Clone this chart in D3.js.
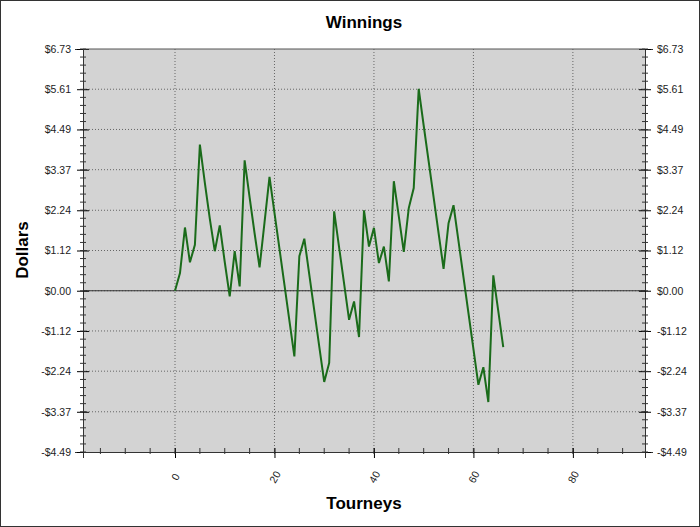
<!DOCTYPE html>
<html><head><meta charset="utf-8">
<script src="https://cdn.jsdelivr.net/npm/d3@7"></script>
<style>body{margin:0;background:#fff}</style>
</head><body><svg id="chart" width="700" height="527"></svg>
<script>
// cumulative winnings per tourney
var winnings = [0, 0.49, 1.76, 0.79, 1.28, 4.07, 3.0, 2.0, 1.10, 1.82,
    0.8, -0.16, 1.10, 0.12, 3.63, 2.6, 1.6, 0.65, 1.9, 3.17,
    2.17, 1.17, 0.17, -0.83, -1.83, 0.96, 1.45, 0.45, -0.55, -1.55,
    -2.54, -2.01, 2.21, 1.2, 0.2, -0.81, -0.30, -1.29, 2.24, 1.23,
    1.75, 0.77, 1.23, 0.26, 3.05, 2.07, 1.08, 2.30, 2.86, 5.62,
    4.6, 3.6, 2.6, 1.6, 0.61, 1.88, 2.38, 1.38, 0.38, -0.62,
    -1.62, -2.62, -2.13, -3.10, 0.43, -0.57, -1.57]
var yTicks = [-4.49, -3.37, -2.24, -1.12, 0, 1.12, 2.24, 3.37, 4.49, 5.61, 6.73]
var xTicks = [0, 20, 40, 60, 80]

var dim = {left: 83, right: 645, top: 49, bottom: 452}
var svg = d3.select("#chart").style("font-family", "Arial, 'Liberation Sans', sans-serif")

svg.append("rect").attr("x", 0.5).attr("y", 0.5).attr("width", 699).attr("height", 526)
    .attr("fill", "#fff").attr("stroke", "#333")

var x = d3.scaleLinear().domain([-18.5, 94.5]).range([dim.left, dim.right])
var y = d3.scaleLinear().domain([-4.49, 6.73]).range([dim.bottom, dim.top])

svg.append("rect").attr("x", dim.left).attr("y", dim.top)
    .attr("width", dim.right - dim.left).attr("height", dim.bottom - dim.top)
    .attr("fill", "#d3d3d3")

// grid
svg.append("g").selectAll("line").data(yTicks.slice(1, -1)).join("line")
    .attr("x1", dim.left).attr("x2", dim.right)
    .attr("y1", d => y(d)).attr("y2", d => y(d))
    .attr("stroke", "#666").attr("stroke-dasharray", "1,2")
svg.append("g").selectAll("line").data(xTicks).join("line")
    .attr("y1", dim.top).attr("y2", dim.bottom)
    .attr("x1", d => x(d)).attr("x2", d => x(d))
    .attr("stroke", "#666").attr("stroke-dasharray", "1,2")

svg.append("line").attr("x1", dim.left).attr("x2", dim.right)
    .attr("y1", y(0)).attr("y2", y(0)).attr("stroke", "#333").attr("stroke-width", 1.2)

var fmt = d => (d < 0 ? "-$" : "$") + Math.abs(d).toFixed(2)
var yMinor = d3.range(0, 51).map(i => -4.49 + i * 11.22 / 50)

// left / right axes
var yl = svg.append("g").attr("transform", `translate(${dim.left},0)`)
    .call(d3.axisLeft(y).tickValues(yTicks).tickFormat(fmt).tickSize(8).tickPadding(4))
var yr = svg.append("g").attr("transform", `translate(${dim.right},0)`)
    .call(d3.axisRight(y).tickValues(yTicks).tickFormat(fmt).tickSize(8).tickPadding(4))
;[yl, yr].forEach(function(g){
    g.select(".domain").attr("stroke", "#333")
    g.selectAll("text").attr("font-size", 10.5).attr("fill", "#222")
})
yl.selectAll(".tick line").attr("x2", -6).attr("x1", 6)
yr.selectAll(".tick line").attr("x2", 6).attr("x1", -6)
;[dim.left, dim.right].forEach(function(px){
    svg.append("g").selectAll("line").data(yMinor).join("line")
        .attr("x1", px - 3).attr("x2", px + 3)
        .attr("y1", d => y(d)).attr("y2", d => y(d)).attr("stroke", "#333")
})

// bottom axis
var xb = svg.append("g").attr("transform", `translate(0,${dim.bottom})`)
    .call(d3.axisBottom(x).tickValues(xTicks).tickSize(6))
xb.select(".domain").attr("stroke", "#333")
xb.selectAll(".tick line").attr("y1", -4).attr("y2", 6)
xb.selectAll("text").attr("font-size", 10.5).attr("fill", "#222")
    .attr("y", 0).attr("dy", "0.35em").attr("text-anchor", "middle")
    .attr("transform", "translate(0,25) rotate(-60)")
svg.append("g").selectAll("line").data(d3.range(-15, 95, 5)).join("line")
    .attr("x1", d => x(d)).attr("x2", d => x(d))
    .attr("y1", dim.bottom - 4).attr("y2", dim.bottom + 2).attr("stroke", "#333")

svg.append("line").attr("x1", dim.left).attr("x2", dim.right)
    .attr("y1", dim.top).attr("y2", dim.top).attr("stroke", "#555")

// series
svg.append("path").datum(winnings)
    .attr("fill", "none").attr("stroke", "#1a6b1a").attr("stroke-width", 2)
    .attr("d", d3.line().x((d, i) => x(i)).y(d => y(d)))

svg.append("text").attr("x", 364).attr("y", 28).attr("text-anchor", "middle")
    .attr("font-size", 17).attr("font-weight", "bold").text("Winnings")
svg.append("text").attr("x", 364).attr("y", 509).attr("text-anchor", "middle")
    .attr("font-size", 17).attr("font-weight", "bold").text("Tourneys")
svg.append("text").attr("transform", "translate(28,250) rotate(-90)").attr("text-anchor", "middle")
    .attr("font-size", 17).attr("font-weight", "bold").text("Dollars")
</script></body></html>
